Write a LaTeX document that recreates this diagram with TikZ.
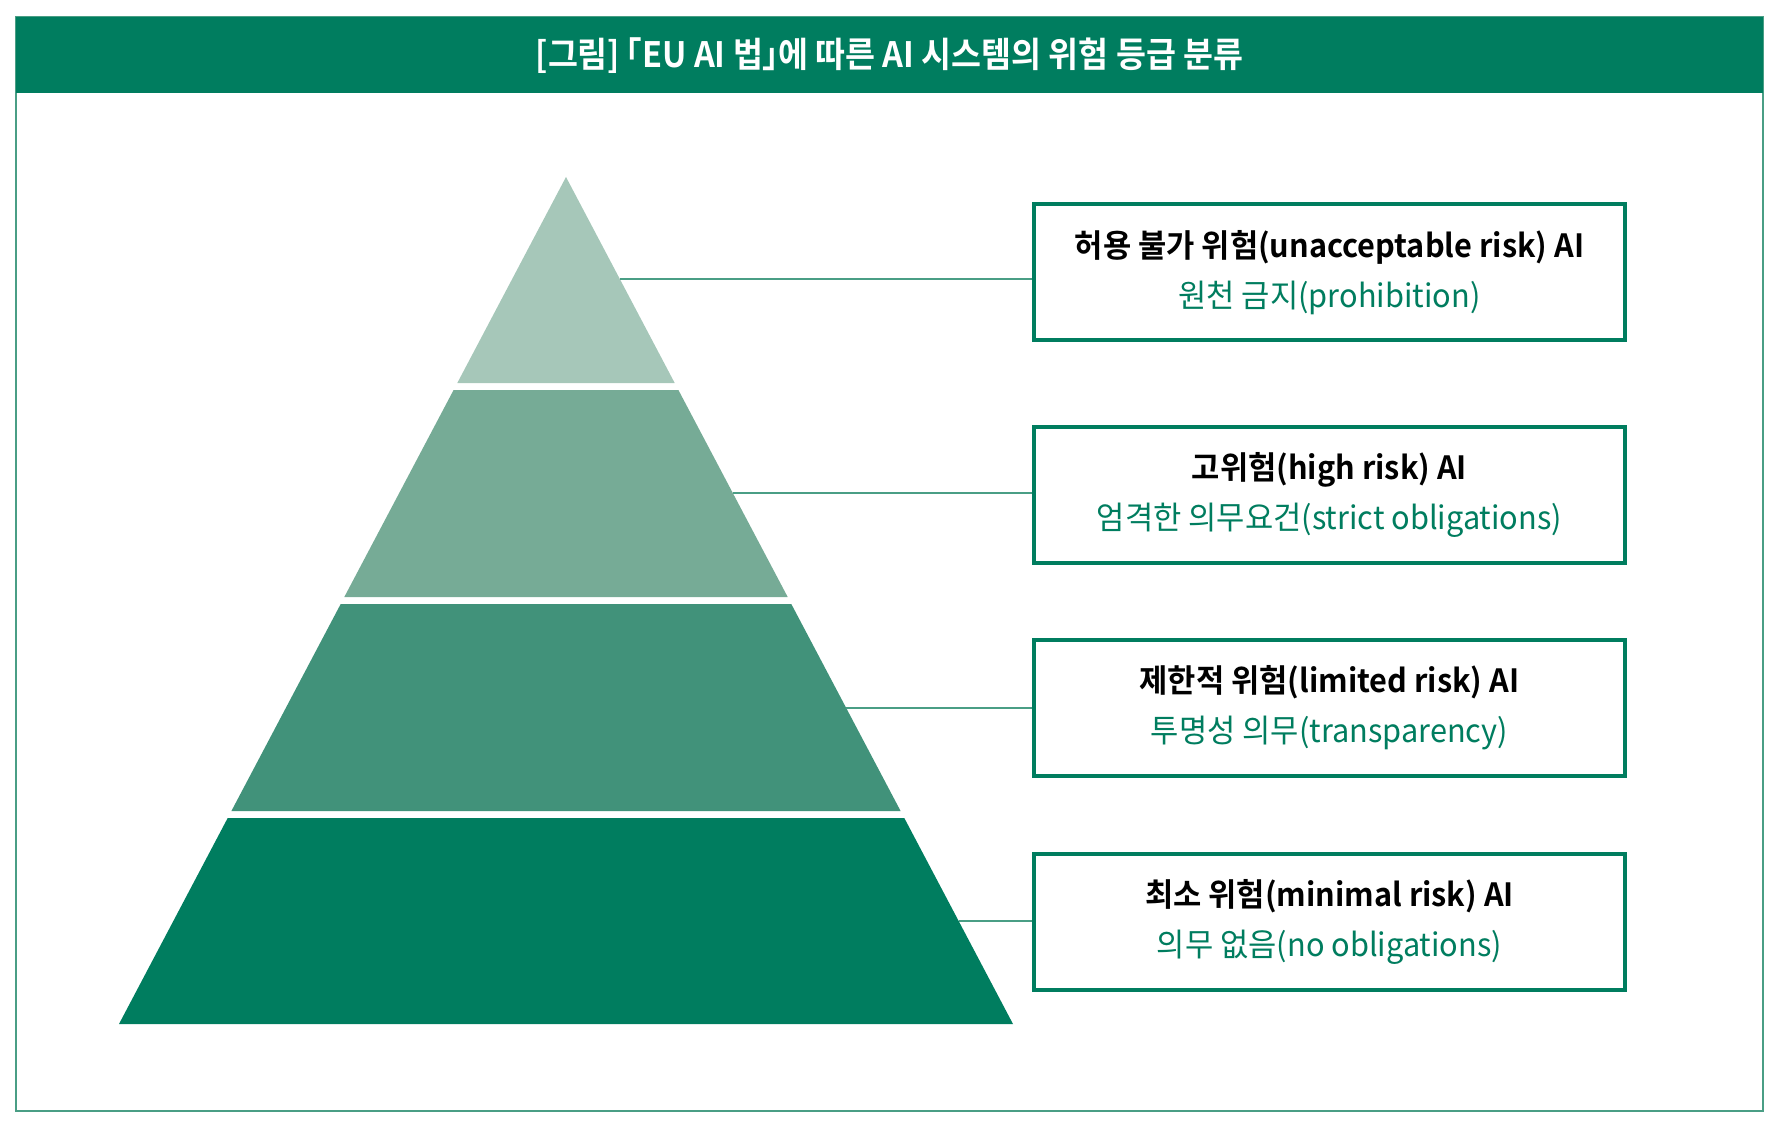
\documentclass[tikz,border=0pt]{standalone}
\usepackage{fontspec}
\usepackage{xcolor}
\setmainfont{Noto Sans CJK KR}[FakeStretch=0.96]
\newfontfamily\krbold{Noto Sans CJK KR Bold}[FakeStretch=0.96]
\newfontfamily\krhead{Noto Sans CJK KR Bold}[FakeStretch=0.93]
\usetikzlibrary{positioning}

\definecolor{aigreen}{HTML}{007D5F}
\definecolor{tierone}{HTML}{A6C7B9}
\definecolor{tiertwo}{HTML}{76AB96}
\definecolor{tierthree}{HTML}{41927A}
\definecolor{linkgreen}{HTML}{4A9E85}

\tikzset{
  riskbox/.style={draw=aigreen, line width=2pt, fill=white,
    minimum width=295.5pt, minimum height=68pt, inner sep=0pt,
    align=center, font=\fontsize{16}{25}\selectfont},
  link/.style={draw=linkgreen, line width=0.75pt}
}
\newcommand{\riskhead}[1]{{\krbold #1}}
\newcommand{\risksub}[1]{{\color{aigreen}#1}}

\begin{document}
\begin{tikzpicture}[x=0.5pt, y=-0.5pt]
\useasboundingbox (0,0) rectangle (1789,1123);

% frame and header
\draw[draw=linkgreen, line width=0.75pt] (16,17) rectangle (1763,1111);
\fill[aigreen] (16,17) rectangle (1763,93);
\node[text=white, font=\krhead\fontsize{17.5}{20}\selectfont](title) at (889.5,56) {[그림]\kern-0.3em「EU AI 법」\kern-0.5em에 따른 AI 시스템의 위험 등급 분류};

% pyramid
\fill[tierone] (566,177) -- (674.7,383) -- (457.3,383) -- cycle;
\fill[tiertwo] (453.6,390) -- (678.4,390) -- (787.7,597) -- (344.3,597) -- cycle;
\fill[tierthree] (340.7,604) -- (791.3,604) -- (900.6,811) -- (231.4,811) -- cycle;
\fill[aigreen] (227.7,818) -- (904.3,818) -- (1013,1024) -- (119,1024) -- cycle;

\coordinate(e1) at (620,279);
\coordinate(e2) at (733,493);
\coordinate(e3) at (846,708);
\coordinate(e4) at (959,921);

% boxes
\node[riskbox](b1) at (1329.5,272.5) {\riskhead{허용 불가 위험(unacceptable risk) AI}\\\risksub{원천 금지(prohibition)}};
\node[riskbox](b2) at (1329.5,495) {\riskhead{고위험(high risk) AI}\\\risksub{엄격한 의무요건(strict obligations)}};
\node[riskbox](b3) at (1329.5,708) {\riskhead{제한적 위험(limited risk) AI}\\\risksub{투명성 의무(transparency)}};
\node[riskbox](b4) at (1329.5,922) {\riskhead{최소 위험(minimal risk) AI}\\\risksub{의무 없음(no obligations)}};

\path[link] (e1) edge (e1 -| b1.west);
\path[link] (e2) edge (e2 -| b2.west);
\path[link] (e3) edge (e3 -| b3.west);
\path[link] (e4) edge (e4 -| b4.west);
\end{tikzpicture}
\end{document}
